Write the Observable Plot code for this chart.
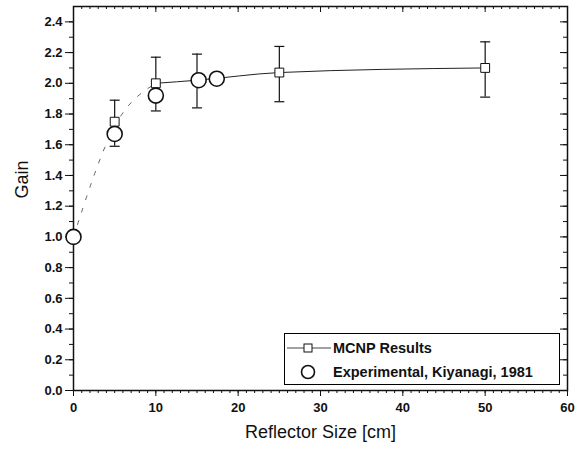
<!DOCTYPE html>
<html><head><meta charset="utf-8">
<script src="https://cdn.jsdelivr.net/npm/d3@7"></script>
<script src="https://cdn.jsdelivr.net/npm/@observablehq/plot@0.6"></script>
<style>
body{margin:0;background:#fff;font-family:"Liberation Sans",Arial,sans-serif}
#wrap{position:relative;width:587px;height:451px}
#legend{position:absolute;left:284px;top:333px;width:274px;height:50px;border:1px solid #000;background:#fff;font-size:14.5px;font-weight:bold;color:#111}
#legend .row{position:absolute;left:0;height:20px;display:flex;align-items:center}
#legend svg{display:block}
</style>
</head><body><div id="wrap"></div>
<script>
// MCNP results (squares) with error bars
const mcnpX = [5, 10, 15, 25, 50];
const mcnpY = [1.75, 2.00, 2.02, 2.07, 2.10];
const mcnpLo = [1.59, 1.82, 1.84, 1.88, 1.91];
const mcnpHi = [1.89, 2.17, 2.19, 2.24, 2.27];
// dashed extrapolation toward zero size
const fitX = [0, 5, 10];
const fitY = [1.00, 1.72, 2.00];
// Experimental, Kiyanagi 1981 (circles)
const expX = [0, 5, 10, 15.2, 17.4];
const expY = [1.00, 1.67, 1.92, 2.02, 2.03];
// axis ticks
const xTicks = [0, 10, 20, 30, 40, 50, 60];
const yTicks = [0, 0.2, 0.4, 0.6, 0.8, 1.0, 1.2, 1.4, 1.6, 1.8, 2.0, 2.2, 2.4];
const xMinor = d3.range(0, 61, 1);
const yMinor = d3.range(0, 25, 1).map(d => d / 10);

const mcnp = mcnpX.map((x, i) => ({x, y: mcnpY[i], lo: mcnpLo[i], hi: mcnpHi[i]}));
const fit = fitX.map((x, i) => ({x, y: fitY[i]}));
const expt = expX.map((x, i) => ({x, y: expY[i]}));

const W = 587, H = 451, mL = 73, mR = 20, mT = 6, mB = 61;
const innerW = W - mL - mR, innerH = H - mT - mB;

const cap = {draw(ctx) { ctx.moveTo(-5, 0); ctx.lineTo(5, 0); }};
const noText = {fill: "none", label: null, stroke: "#111"};

const chart = Plot.plot({
  width: W, height: H,
  marginLeft: mL, marginRight: mR, marginTop: mT, marginBottom: mB,
  style: {fontFamily: '"Liberation Sans", Arial, sans-serif', fontSize: "13px", fontWeight: "bold", color: "#111", background: "#fff"},
  x: {domain: [0, 60]},
  y: {domain: [0, 2.5]},
  marks: [
    Plot.frame({stroke: "#111", strokeWidth: 1.5}),
    Plot.axisX({ticks: xMinor, tickSize: 3, ...noText}),
    Plot.axisX({ticks: xTicks, tickSize: 6, tickPadding: 6, label: null, stroke: "#111"}),
    Plot.axisY({ticks: yMinor, tickSize: 4, ...noText}),
    Plot.axisY({ticks: yTicks, tickSize: 8, tickPadding: 3, tickFormat: d3.format(".1f"), label: null, stroke: "#111"}),
    // inward ticks on the top and right edges
    Plot.tickX(xMinor, {x: d => d, insetBottom: innerH - 3, stroke: "#111"}),
    Plot.tickX(xTicks, {x: d => d, insetBottom: innerH - 6, stroke: "#111"}),
    Plot.tickY(yMinor, {y: d => d, insetLeft: innerW - 4, stroke: "#111"}),
    Plot.tickY(yTicks, {y: d => d, insetLeft: innerW - 7, stroke: "#111"}),
    Plot.line(fit, {x: "x", y: "y", curve: "natural", stroke: "#666", strokeWidth: 1, strokeDasharray: "4,9"}),
    Plot.line(mcnp.filter(d => d.x >= 10), {x: "x", y: "y", curve: "monotone-x", stroke: "#222", strokeWidth: 1}),
    Plot.ruleX(mcnp, {x: "x", y1: "lo", y2: "hi", stroke: "#111", strokeWidth: 1.2}),
    Plot.dot(mcnp, {x: "x", y: "lo", symbol: cap, stroke: "#111", strokeWidth: 1.2, r: 5}),
    Plot.dot(mcnp, {x: "x", y: "hi", symbol: cap, stroke: "#111", strokeWidth: 1.2, r: 5}),
    Plot.dot(mcnp, {x: "x", y: "y", symbol: "square", r: 5, fill: "#fff", stroke: "#111", strokeWidth: 1}),
    Plot.dot(expt, {x: "x", y: "y", r: 7.5, fill: "#fff", stroke: "#111", strokeWidth: 1.6}),
    Plot.text(["Reflector Size [cm]"], {frameAnchor: "bottom", dy: 47, fontSize: 18, fontWeight: "normal", fill: "#111"}),
    Plot.text(["Gain"], {frameAnchor: "left", dx: -51, rotate: -90, fontSize: 18, fontWeight: "normal", fill: "#111"})
  ]
});
document.getElementById("wrap").appendChild(chart);

const legend = document.createElement("div");
legend.id = "legend";
legend.innerHTML = `
<div class="row" style="top:4px">
  <svg width="48" height="20"><line x1="2" y1="10" x2="46" y2="10" stroke="#444" stroke-width="1"/><rect x="19" y="6" width="8" height="8" fill="#fff" stroke="#111"/></svg>
  <span>MCNP Results</span></div>
<div class="row" style="top:28px">
  <svg width="48" height="20"><circle cx="23" cy="10" r="6.5" fill="#fff" stroke="#111" stroke-width="1.6"/></svg>
  <span>Experimental, Kiyanagi, 1981</span></div>`;
document.getElementById("wrap").appendChild(legend);
</script>
</body></html>
